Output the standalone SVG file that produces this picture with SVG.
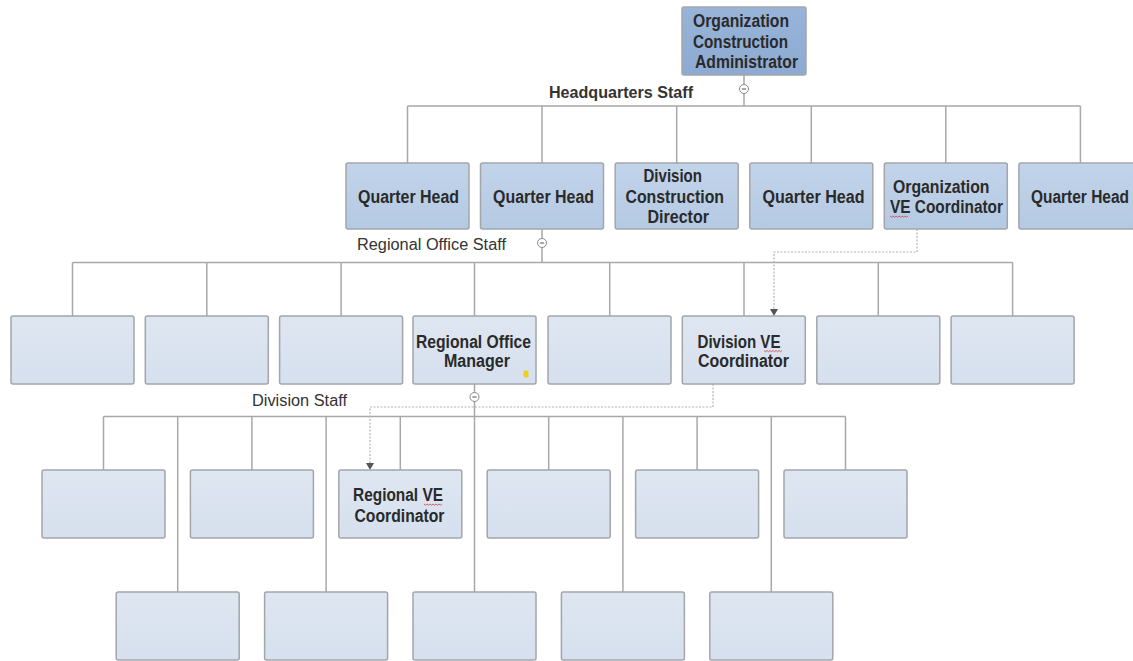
<svg xmlns="http://www.w3.org/2000/svg" width="1133" height="661" viewBox="0 0 1133 661">
  <style>
    .box { stroke: #a2a6ab; stroke-width: 1.5; }
    .top { fill: url(#gTop); }
    .l1 { fill: url(#gL1); }
    .l2 { fill: url(#gL2); }
    .t { font-family: "Liberation Sans", Arial, sans-serif; font-weight: bold; font-size: 18px; fill: #2a2a2a; }
    .lbl { font-family: "Liberation Sans", Arial, sans-serif; font-size: 16px; fill: #333333; }
    .lblb { font-family: "Liberation Sans", Arial, sans-serif; font-size: 16px; font-weight: bold; fill: #333333; }
    .ln { stroke: #a8a8a8; stroke-width: 1.5; fill: none; }
    .dot { stroke: #b4b4b4; stroke-width: 1.2; stroke-dasharray: 2 1.5; fill: none; }
    .col { fill: #ffffff; stroke: #8a8a8a; stroke-width: 1; }
    .sq { stroke: #d04040; stroke-width: 0.8; fill: none; }
  </style>
  <defs>
    <linearGradient id="gTop" x1="0" y1="0" x2="0" y2="1">
      <stop offset="0" stop-color="#98b4d8"/>
      <stop offset="1" stop-color="#8daad2"/>
    </linearGradient>
    <linearGradient id="gL1" x1="0" y1="0" x2="0" y2="1">
      <stop offset="0" stop-color="#c2d4ea"/>
      <stop offset="1" stop-color="#b4c9e3"/>
    </linearGradient>
    <linearGradient id="gL2" x1="0" y1="0" x2="0" y2="1">
      <stop offset="0" stop-color="#dee6f1"/>
      <stop offset="1" stop-color="#d6e0ee"/>
    </linearGradient>
  </defs>

  <rect width="1133" height="661" fill="#ffffff"/>

  <!-- connectors -->
  <g id="connectors">
    <!-- headquarters staff -->
    <path class="ln" d="M744,75 V106 M407.5,106 H1080.5 M407.5,106 V163 M542,106 V163 M676.7,106 V163 M811.3,106 V163 M945.8,106 V163 M1080.4,106 V163"/>
    <!-- regional office staff -->
    <path class="ln" d="M542,229 V262.5 M72.5,262.5 H1012.6 M72.5,262.5 V316 M206.8,262.5 V316 M341.1,262.5 V316 M474.5,262.5 V316 M609.7,262.5 V316 M744,262.5 V316 M878.3,262.5 V316 M1012.6,262.5 V316"/>
    <!-- division staff -->
    <path class="ln" d="M474.5,384 V592 M103.5,416.5 H845.5 M103.5,416.5 V470 M251.9,416.5 V470 M400.3,416.5 V470 M548.7,416.5 V470 M697.1,416.5 V470 M845.5,416.5 V470 M177.7,416.5 V592 M326.1,416.5 V592 M622.9,416.5 V592 M771.3,416.5 V592"/>
    <!-- dotted coordination links -->
    <path class="dot" d="M917,229 V252 H774 V309"/>
    <path d="M770,309 L778,309 L774,316 Z" fill="#555555"/>
    <path class="dot" d="M713,384 V407 H370 V463"/>
    <path d="M366,463 L374,463 L370,470 Z" fill="#555555"/>
    <!-- collapse toggles -->
    <g>
      <circle class="col" cx="744" cy="89" r="4.5"/>
      <path d="M741.8,89 H746.2" stroke="#555" stroke-width="1"/>
      <circle class="col" cx="542" cy="243" r="4.5"/>
      <path d="M539.8,243 H544.2" stroke="#555" stroke-width="1"/>
      <circle class="col" cx="474.5" cy="397" r="4.5"/>
      <path d="M472.3,397 H476.7" stroke="#555" stroke-width="1"/>
    </g>
  </g>

  <!-- group labels -->
  <text class="lblb" x="549" y="98" textLength="144" lengthAdjust="spacingAndGlyphs">Headquarters Staff</text>
  <text class="lbl" x="357" y="249.5" textLength="149" lengthAdjust="spacingAndGlyphs">Regional Office Staff</text>
  <text class="lbl" x="252" y="405.5" textLength="95" lengthAdjust="spacingAndGlyphs">Division Staff</text>

  <!-- top -->
  <g id="n-admin">
    <rect class="box top" x="682" y="7" width="124" height="68" rx="2"/>
    <text class="t" x="693" y="27" textLength="96" lengthAdjust="spacingAndGlyphs">Organization</text>
    <text class="t" x="693" y="48" textLength="95" lengthAdjust="spacingAndGlyphs">Construction</text>
    <text class="t" x="695" y="68" textLength="103" lengthAdjust="spacingAndGlyphs">Administrator</text>
  </g>

  <!-- headquarters staff -->
  <g id="n-qh1">
    <rect class="box l1" x="346" y="163" width="123" height="66" rx="2"/>
    <text class="t" x="358" y="203" textLength="101" lengthAdjust="spacingAndGlyphs">Quarter Head</text>
  </g>
  <g id="n-qh2">
    <rect class="box l1" x="480.5" y="163" width="123" height="66" rx="2"/>
    <text class="t" x="493" y="203" textLength="101" lengthAdjust="spacingAndGlyphs">Quarter Head</text>
  </g>
  <g id="n-dcd">
    <rect class="box l1" x="615.2" y="163" width="123" height="66" rx="2"/>
    <text class="t" x="643.5" y="182" textLength="58.5" lengthAdjust="spacingAndGlyphs">Division</text>
    <text class="t" x="625.5" y="203" textLength="98.5" lengthAdjust="spacingAndGlyphs">Construction</text>
    <text class="t" x="647.5" y="223" textLength="61.5" lengthAdjust="spacingAndGlyphs">Director</text>
  </g>
  <g id="n-qh3">
    <rect class="box l1" x="749.8" y="163" width="123" height="66" rx="2"/>
    <text class="t" x="762.5" y="203" textLength="102" lengthAdjust="spacingAndGlyphs">Quarter Head</text>
  </g>
  <g id="n-ove">
    <rect class="box l1" x="884.3" y="163" width="123" height="66" rx="2"/>
    <text class="t" x="893" y="193" textLength="96.5" lengthAdjust="spacingAndGlyphs">Organization</text>
    <text class="t" x="890" y="213" textLength="113" lengthAdjust="spacingAndGlyphs">VE Coordinator</text>
    <path class="sq" d="M890,216 l1.5,1.2 l1.5,-1.2 l1.5,1.2 l1.5,-1.2 l1.5,1.2 l1.5,-1.2 l1.5,1.2 l1.5,-1.2 l1.5,1.2 l1.5,-1.2 l1.5,1.2 l1.5,-1.2"/>
  </g>
  <g id="n-qh4">
    <rect class="box l1" x="1018.9" y="163" width="123" height="66" rx="2"/>
    <text class="t" x="1031" y="203" textLength="98" lengthAdjust="spacingAndGlyphs">Quarter Head</text>
  </g>

  <!-- regional office staff -->
  <g id="n-r1"><rect class="box l2" x="11" y="316" width="123" height="68" rx="2"/></g>
  <g id="n-r2"><rect class="box l2" x="145.3" y="316" width="123" height="68" rx="2"/></g>
  <g id="n-r3"><rect class="box l2" x="279.6" y="316" width="123" height="68" rx="2"/></g>
  <g id="n-rom">
    <rect class="box l2" x="413" y="316" width="123" height="68" rx="2"/>
    <text class="t" x="416" y="347.5" textLength="115" lengthAdjust="spacingAndGlyphs">Regional Office</text>
    <text class="t" x="444" y="367" textLength="66" lengthAdjust="spacingAndGlyphs">Manager</text>
    <rect x="523.5" y="370.5" width="5" height="7" rx="1.5" fill="#f2cf1f"/>
  </g>
  <g id="n-r5"><rect class="box l2" x="548" y="316" width="123" height="68" rx="2"/></g>
  <g id="n-dve">
    <rect class="box l2" x="682.3" y="316" width="123" height="68" rx="2"/>
    <text class="t" x="697.5" y="347.5" textLength="83" lengthAdjust="spacingAndGlyphs">Division VE</text>
    <text class="t" x="698" y="367" textLength="91" lengthAdjust="spacingAndGlyphs">Coordinator</text>
    <path class="sq" d="M764,350.5 l1.5,1.2 l1.5,-1.2 l1.5,1.2 l1.5,-1.2 l1.5,1.2 l1.5,-1.2 l1.5,1.2 l1.5,-1.2 l1.5,1.2 l1.5,-1.2 l1.5,1.2 l1.5,-1.2"/>
  </g>
  <g id="n-r7"><rect class="box l2" x="816.8" y="316" width="123" height="68" rx="2"/></g>
  <g id="n-r8"><rect class="box l2" x="951.1" y="316" width="123" height="68" rx="2"/></g>

  <!-- division staff, upper row -->
  <g id="n-d1"><rect class="box l2" x="42" y="470" width="123" height="68" rx="2"/></g>
  <g id="n-d2"><rect class="box l2" x="190.4" y="470" width="123" height="68" rx="2"/></g>
  <g id="n-rve">
    <rect class="box l2" x="338.8" y="470" width="123" height="68" rx="2"/>
    <text class="t" x="353" y="501" textLength="90" lengthAdjust="spacingAndGlyphs">Regional VE</text>
    <text class="t" x="354.5" y="521.5" textLength="90" lengthAdjust="spacingAndGlyphs">Coordinator</text>
    <path class="sq" d="M424,504 l1.5,1.2 l1.5,-1.2 l1.5,1.2 l1.5,-1.2 l1.5,1.2 l1.5,-1.2 l1.5,1.2 l1.5,-1.2 l1.5,1.2 l1.5,-1.2 l1.5,1.2 l1.5,-1.2"/>
  </g>
  <g id="n-d4"><rect class="box l2" x="487.2" y="470" width="123" height="68" rx="2"/></g>
  <g id="n-d5"><rect class="box l2" x="635.6" y="470" width="123" height="68" rx="2"/></g>
  <g id="n-d6"><rect class="box l2" x="784" y="470" width="123" height="68" rx="2"/></g>

  <!-- division staff, lower row -->
  <g id="n-e1"><rect class="box l2" x="116.2" y="592" width="123" height="68" rx="2"/></g>
  <g id="n-e2"><rect class="box l2" x="264.6" y="592" width="123" height="68" rx="2"/></g>
  <g id="n-e3"><rect class="box l2" x="413" y="592" width="123" height="68" rx="2"/></g>
  <g id="n-e4"><rect class="box l2" x="561.4" y="592" width="123" height="68" rx="2"/></g>
  <g id="n-e5"><rect class="box l2" x="709.8" y="592" width="123" height="68" rx="2"/></g>
</svg>
